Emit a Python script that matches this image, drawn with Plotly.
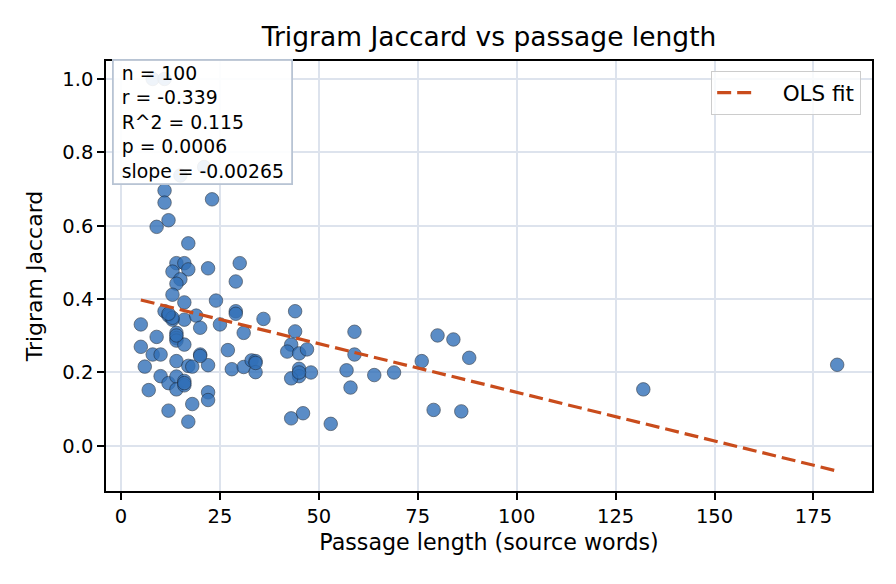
import plotly.graph_objects as go

# Data
passage_words = [8, 11, 15, 21, 11, 11, 23, 12, 9, 17,
                 14, 16, 13, 17, 22, 30, 15, 14, 29, 13,
                 16, 24, 11, 12, 29, 29, 16, 19, 5, 13,
                 20, 25, 36, 31, 44, 44, 9, 14, 14, 14,
                 16, 5, 8, 10, 14, 20, 27, 43, 42, 45,
                 6, 17, 18, 22, 28, 31, 33, 34, 34, 45,
                 45, 43, 10, 12, 14, 14, 16, 16, 7, 22,
                 22, 18, 12, 17, 43, 46, 47, 48, 53, 59,
                 59, 57, 58, 64, 69, 76, 80, 84, 88, 79,
                 86, 132, 181, 34, 14, 16, 45, 13, 12, 20]
trigram_jaccard = [1.0, 1.0, 0.737, 0.760, 0.696, 0.663, 0.672, 0.615, 0.597, 0.552,
                   0.498, 0.498, 0.475, 0.481, 0.484, 0.498, 0.454, 0.442, 0.448, 0.412,
                   0.391, 0.396, 0.367, 0.355, 0.367, 0.360, 0.344, 0.355, 0.331, 0.344,
                   0.322, 0.331, 0.346, 0.308, 0.367, 0.312, 0.297, 0.308, 0.294, 0.287,
                   0.276, 0.270, 0.249, 0.249, 0.231, 0.249, 0.261, 0.276, 0.257, 0.252,
                   0.216, 0.218, 0.216, 0.220, 0.209, 0.215, 0.233, 0.231, 0.201, 0.210,
                   0.190, 0.184, 0.190, 0.171, 0.189, 0.154, 0.177, 0.165, 0.152, 0.146,
                   0.125, 0.114, 0.096, 0.066, 0.075, 0.089, 0.263, 0.200, 0.060, 0.311,
                   0.249, 0.206, 0.159, 0.193, 0.200, 0.231, 0.301, 0.290, 0.240, 0.098,
                   0.094, 0.154, 0.221, 0.226, 0.301, 0.171, 0.200, 0.349, 0.360, 0.245]

FIT_SLOPE = -0.00265
FIT_INTERCEPT = 0.411

stats_labels = ["n = 100", "r = -0.339", "R^2 = 0.115", "p = 0.0006", "slope = -0.00265"]

x_ticks = [0, 25, 50, 75, 100, 125, 150, 175]
y_ticks = [0.0, 0.2, 0.4, 0.6, 0.8, 1.0]

FONT = "DejaVu Sans"
NBSP = "\u00a0"

fit_x = [min(passage_words), max(passage_words)]
fit_y = [FIT_INTERCEPT + FIT_SLOPE * v for v in fit_x]

fig = go.Figure()
fig.add_trace(go.Scatter(
    x=passage_words, y=trigram_jaccard, mode="markers",
    marker=dict(size=13.5, color="#3170b8", opacity=0.8,
                line=dict(color="#1a2535", width=0.7)),
    showlegend=False, hoverinfo="skip",
))
fig.add_trace(go.Scatter(
    x=fit_x, y=fit_y, mode="lines", name=NBSP * 3 + "OLS fit",
    line=dict(color="#c94c1c", width=3.2, dash="14px,6px"),
))

axis_common = dict(
    showline=True, linecolor="black", linewidth=1.5, mirror=True,
    ticks="outside", ticklen=7, tickwidth=1.5, tickcolor="black",
    showgrid=True, gridcolor="#dde3ed", gridwidth=1.5,
    zeroline=False,
    tickfont=dict(family=FONT, size=19.5, color="black"),
)

fig.update_xaxes(
    range=[-3.8, 189.8], tickvals=x_ticks,
    title=dict(text="Passage length (source words)", font=dict(family=FONT, size=22.2, color="black"), standoff=7),
    **axis_common,
)
fig.update_yaxes(
    range=[-0.123, 1.049], tickvals=y_ticks, tickformat=".1f",
    title=dict(text="Trigram Jaccard", font=dict(family=FONT, size=22, color="black"), standoff=14),
    **axis_common,
)

fig.add_annotation(
    xref="paper", yref="paper", x=0.0078, y=1.0047,
    xanchor="left", yanchor="top", align="left", showarrow=False,
    text="<br>".join(NBSP + s for s in stats_labels),
    width=173,
    font=dict(family=FONT, size=18.8, color="black"),
    bgcolor="rgba(255,255,255,0.9)", bordercolor="#b8c4d4", borderwidth=1.8, borderpad=2,
)

fig.update_layout(
    width=896, height=584,
    margin=dict(l=106, r=24, t=61, b=93),
    paper_bgcolor="white", plot_bgcolor="white",
    font=dict(family=FONT, color="black"),
    title=dict(text="Trigram Jaccard vs passage length", x=0.5, xref="paper",
               y=1 - 37 / 584, yanchor="middle",
               font=dict(family=FONT, size=26.5, color="black")),
    legend=dict(x=0.9856, y=0.9767, xanchor="right", yanchor="top",
                itemwidth=40,
                bgcolor="rgba(255,255,255,0.8)", bordercolor="#cccccc", borderwidth=1.2,
                font=dict(family=FONT, size=21.5, color="black")),
)

fig.write_html("out.html")
